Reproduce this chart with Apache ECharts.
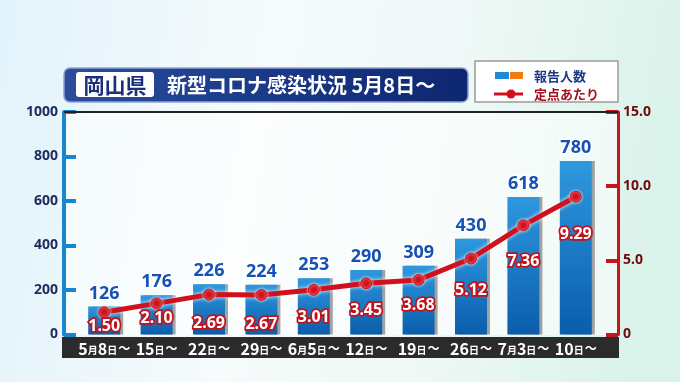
<!DOCTYPE html>
<html><head><meta charset="utf-8">
<script src="https://cdn.jsdelivr.net/npm/echarts@6/dist/echarts.min.js"></script>
<style>html,body{margin:0;padding:0;}#c{width:680px;height:382px;}</style>
</head><body><div id="c"></div>
<script>
// ---- data ----
const categories = ['5月8日～','15日～','22日～','29日～','6月5日～','12日～','19日～','26日～','7月3日～','10日～'];
const reports = [126, 176, 226, 224, 253, 290, 309, 430, 618, 780];
const perSite = [1.50, 2.10, 2.69, 2.67, 3.01, 3.45, 3.68, 5.12, 7.36, 9.29];
const leftTicks = [0, 200, 400, 600, 800, 1000];
const rightTicks = [0, 5, 10, 15];
// label gap (style only) below each line point
const lineLabelGap = [0, 1, 15, 16, 14, 13, 12, 18, 22, 24];

const JP = '"Noto Sans CJK JP","Noto Sans",sans-serif';
const chart = echarts.init(document.getElementById('c'));

const option = {
  animation: false,
  backgroundColor: {
    type: 'linear', x: 0, y: 0, x2: 1, y2: 0.3,
    colorStops: [
      {offset: 0, color: '#e2f3fb'},
      {offset: 0.4, color: '#f6fbfc'},
      {offset: 0.7, color: '#eef8f6'},
      {offset: 1, color: '#d9f2ea'}
    ]
  },
  grid: {left: 78, right: 78, top: 112, bottom: 47.5},
  xAxis: {
    type: 'category',
    data: categories,
    axisLine: {show: false},
    axisTick: {show: false},
    axisLabel: {
      interval: 0,
      margin: 6,
      color: '#ffffff',
      fontFamily: JP,
      fontWeight: 'bold',
      fontSize: 16,
      formatter: v => v.replace(/([月日])/g, '{s|$1}').replace(/～/g, '{t|～}'),
      rich: {
        s: {fontSize: 10, fontWeight: 'bold', color: '#fff', fontFamily: JP, padding: [3, 0, 0, 0]},
        t: {fontSize: 12, fontWeight: 'bold', color: '#fff', fontFamily: JP, padding: [0, 0, 0, 1]}
      }
    }
  },
  yAxis: [
    {
      type: 'value', min: leftTicks[0], max: leftTicks[leftTicks.length - 1], interval: leftTicks[1] - leftTicks[0],
      offset: 14,
      axisLine: {show: true, lineStyle: {color: '#1987cf', width: 4}},
      axisTick: {show: true, inside: true, length: 12, lineStyle: {color: '#1987cf', width: 4}},
      splitLine: {show: false},
      axisLabel: {color: '#1b2c5c', fontWeight: 'bold', fontSize: 14, fontFamily: '"Noto Sans",sans-serif', margin: 6,
        formatter: v => String(v)}
    },
    {
      type: 'value', min: rightTicks[0], max: rightTicks[rightTicks.length - 1], interval: rightTicks[1] - rightTicks[0],
      offset: 16, position: 'right',
      axisLine: {show: true, lineStyle: {color: '#c8141e', width: 3}},
      axisTick: {show: true, inside: true, length: 12, lineStyle: {color: '#c8141e', width: 4}},
      splitLine: {show: false},
      axisLabel: {color: '#6e0b0b', fontWeight: 'bold', fontSize: 14, fontFamily: '"Noto Sans",sans-serif', margin: 5,
        formatter: v => v === 0 ? '0' : v.toFixed(1)}
    }
  ],
  series: [
    {
      name: '報告人数', type: 'bar', yAxisIndex: 0, data: reports, barWidth: 32, z: 2,
      itemStyle: {
        color: {type: 'linear', x: 0, y: 0, x2: 0, y2: 1,
          colorStops: [{offset: 0, color: '#2e98de'}, {offset: 1, color: '#0a5dab'}]},
        shadowColor: 'rgba(90,90,90,0.55)', shadowOffsetX: 3, shadowOffsetY: 0, shadowBlur: 0
      },
      label: {
        show: true, position: 'top', distance: 4,
        color: '#1652b5', fontSize: 18, fontWeight: 'bold', fontFamily: '"Noto Sans",sans-serif',
        textBorderColor: '#ffffff', textBorderWidth: 3
      }
    },
    {
      name: '定点あたり', type: 'line', yAxisIndex: 1, z: 5,
      data: perSite.map((v, i) => ({
        value: v,
        label: {distance: lineLabelGap[i]}
      })),
      symbol: 'circle', symbolSize: 11,
      lineStyle: {color: '#d0101c', width: 5, shadowColor: 'rgba(255,255,255,0.95)', shadowBlur: 4},
      itemStyle: {color: '#d0101c', borderColor: '#d0101c', shadowColor: 'rgba(255,255,255,0.9)', shadowBlur: 3},
      label: {
        show: true, position: 'bottom',
        formatter: p => p.value.toFixed(2),
        color: '#ffffff', fontSize: 16, fontWeight: 'bold', fontFamily: '"Noto Sans",sans-serif',
        textBorderColor: '#c4121c', textBorderWidth: 3.5
      }
    }
  ],
  graphic: [
    {type: 'rect', z: -10, shape: {x: 64, y: 112, width: 554, height: 223},
      style: {fill: 'rgba(255,255,255,0.55)'}},
    {type: 'line', z: 1, shape: {x1: 64, y1: 112, x2: 618, y2: 112}, style: {stroke: '#222', lineWidth: 2}},
    {type: 'rect', z: -1, shape: {x: 62, y: 337, width: 557, height: 21},
      style: {fill: '#2b2b2b'}},
    {type: 'rect', z: 10, shape: {x: 64, y: 68, width: 404, height: 34, r: 6},
      style: {fill: {type: 'linear', x: 0, y: 0, x2: 1, y2: 0,
        colorStops: [{offset: 0, color: '#2c4d9d'}, {offset: 0.4, color: '#1d3d8d'}, {offset: 1, color: '#0d2670'}]},
        stroke: '#8ea2d2', lineWidth: 1.5}},
    {type: 'rect', z: 11, shape: {x: 76, y: 72, width: 78, height: 25, r: 3}, style: {fill: '#ffffff'}},
    {type: 'text', z: 12, x: 115, y: 85, style: {text: '岡山県', fill: '#1b2f7a', font: 'bold 21px ' + JP,
      textAlign: 'center', textVerticalAlign: 'middle'}},
    {type: 'text', z: 12, x: 167, y: 85, style: {text: '新型コロナ感染状況 5月8日～', fill: '#ffffff', font: 'bold 20px ' + JP,
      textAlign: 'left', textVerticalAlign: 'middle'}},
    {type: 'rect', z: 10, shape: {x: 475, y: 61, width: 143, height: 41},
      style: {fill: '#ffffff', stroke: '#9a9a9a', lineWidth: 1.5}},
    {type: 'rect', z: 11, shape: {x: 495, y: 72, width: 14, height: 7}, style: {fill: '#1f8ad6'}},
    {type: 'rect', z: 11, shape: {x: 510, y: 72, width: 13, height: 7}, style: {fill: '#f47b14'}},
    {type: 'text', z: 11, x: 534, y: 76, style: {text: '報告人数', fill: '#1c3a8a', font: 'bold 13px ' + JP,
      textAlign: 'left', textVerticalAlign: 'middle'}},
    {type: 'line', z: 11, shape: {x1: 494, y1: 94, x2: 523, y2: 94}, style: {stroke: '#d0101c', lineWidth: 3}},
    {type: 'circle', z: 12, shape: {cx: 511, cy: 94, r: 4.5}, style: {fill: '#d0101c'}},
    {type: 'text', z: 11, x: 534, y: 94, style: {text: '定点あたり', fill: '#a3101c', font: 'bold 13px ' + JP,
      textAlign: 'left', textVerticalAlign: 'middle'}}
  ]
};
chart.setOption(option);
</script>
</body></html>
